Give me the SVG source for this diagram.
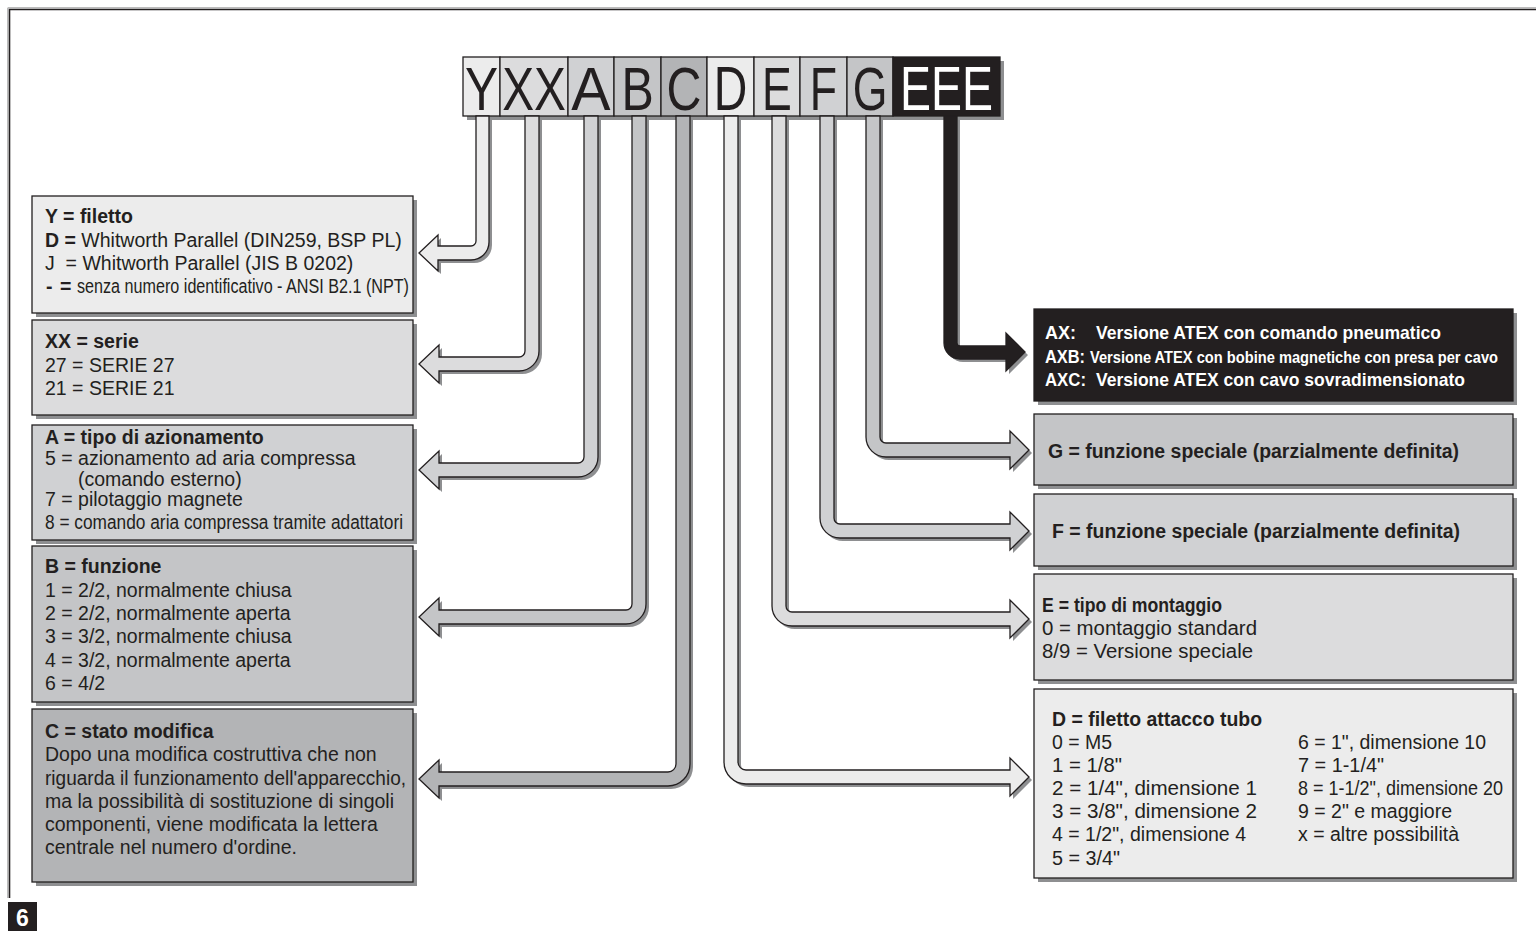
<svg xmlns="http://www.w3.org/2000/svg" xmlns:xlink="http://www.w3.org/1999/xlink" width="1536" height="931" viewBox="0 0 1536 931">
<style>
.sh{fill:#8e8f91}
.bx{stroke:#231f20;stroke-width:1.3}
.ar{stroke:#231f20;stroke-width:1.3;stroke-linejoin:miter}
.t{font-family:"Liberation Sans",Arial,sans-serif;font-size:19.5px;fill:#231f20}
.r{font-family:"Liberation Sans",Arial,sans-serif;font-size:20px;fill:#231f20}
.w{font-family:"Liberation Sans",Arial,sans-serif;font-size:19px;font-weight:bold;fill:#ffffff}
.b{font-weight:bold}
.hl{font-family:"Liberation Sans",Arial,sans-serif;font-size:62px;fill:#231f20;text-anchor:middle}
.c1{fill:#ececec}.c2{fill:#dcdcdd}.c3{fill:#d0d1d3}.c4{fill:#c4c5c7}.c5{fill:#b3b4b6}.c6{fill:#231f20}
</style>
<defs>
<path id="pY" d="M476 116 V241 A5 5 0 0 1 471 246 H438 V235 L419 253 L438 271 V260 H471 A18 18 0 0 0 489 242 V116 Z"/>
<path id="pXX" d="M525 116 V351 A6 6 0 0 1 519 357 H439 V345 L419 364 L439 383 V371 H519 A20 20 0 0 0 539 351 V116 Z"/>
<path id="pA" d="M584 116 V457 A6 6 0 0 1 578 463 H439 V451 L419 470 L439 489 V477 H578 A20 20 0 0 0 598 457 V116 Z"/>
<path id="pB" d="M632 116 V604 A6 6 0 0 1 626 610 H439 V598 L419 617 L439 636 V624 H626 A20 20 0 0 0 646 604 V116 Z"/>
<path id="pC" d="M676 116 V764 A8 8 0 0 1 668 772 H439 V760 L419 779 L439 798 V786 H668 A22 22 0 0 0 690 764 V116 Z"/>
<path id="pD" d="M724 116 V762 A22 22 0 0 0 746 784 H1010 V796 L1029 777 L1010 758 V770 H746 A8 8 0 0 1 738 762 V116 Z"/>
<path id="pE" d="M772 116 V606 A20 20 0 0 0 792 626 H1010 V638 L1029 619 L1010 600 V612 H792 A6 6 0 0 1 786 606 V116 Z"/>
<path id="pF" d="M820 116 V518 A20 20 0 0 0 840 538 H1010 V550 L1029 531 L1010 512 V524 H840 A6 6 0 0 1 834 518 V116 Z"/>
<path id="pG" d="M866 116 V437 A20 20 0 0 0 886 457 H1010 V469 L1029 450 L1010 431 V443 H886 A6 6 0 0 1 880 437 V116 Z"/>
<path id="pEEE" d="M944 116 V343 A16 16 0 0 0 960 359 H1006 V371 L1025 352 L1006 333 V346 H960 A3 3 0 0 1 957 343 V116 Z"/>
</defs>

<rect width="1536" height="931" fill="#ffffff"/>

<g id="frame">
<path d="M7.8 898 V7.8 H1536" fill="none" stroke="#a0a0a0" stroke-width="1"/>
<path d="M9.5 898 V9.5 H1536" fill="none" stroke="#231f20" stroke-width="1.6"/>
<rect x="8" y="902" width="29" height="29" fill="#231f20"/>
<text x="22.5" y="926" font-family="'Liberation Sans',Arial,sans-serif" font-size="23" font-weight="bold" fill="#ffffff" text-anchor="middle">6</text>
</g>

<g id="code-header">
<rect x="467" y="61" width="537" height="59" class="sh"/>
<rect x="463" y="57" width="37" height="59" class="bx c1"/>
<rect x="500" y="57" width="68" height="59" class="bx c2"/>
<rect x="568" y="57" width="46" height="59" class="bx c3"/>
<rect x="614" y="57" width="47" height="59" class="bx c4"/>
<rect x="661" y="57" width="46" height="59" class="bx c5"/>
<rect x="707" y="57" width="47" height="59" class="bx c1"/>
<rect x="754" y="57" width="46" height="59" class="bx c2"/>
<rect x="800" y="57" width="47" height="59" class="bx c3"/>
<rect x="847" y="57" width="46" height="59" class="bx c4"/>
<rect x="893" y="57" width="107" height="59" class="bx c6"/>
<text class="hl" transform="translate(481.5,110) scale(0.8,1)">Y</text>
<text class="hl" transform="translate(534,110) scale(0.77,1)">XX</text>
<text class="hl" transform="translate(591,110) scale(0.95,1)">A</text>
<text class="hl" transform="translate(637.5,110) scale(0.78,1)">B</text>
<text class="hl" transform="translate(684,110) scale(0.78,1)">C</text>
<text class="hl" transform="translate(730.5,110) scale(0.75,1)">D</text>
<text class="hl" transform="translate(777,110) scale(0.72,1)">E</text>
<text class="hl" transform="translate(823.5,110) scale(0.72,1)">F</text>
<text class="hl" transform="translate(870,110) scale(0.72,1)">G</text>
<text class="hl" transform="translate(946.5,110) scale(0.75,1)" style="fill:#ffffff">EEE</text>
</g>

<g id="connectors">
<use xlink:href="#pY" class="sh" transform="translate(3,3)"/>
<use xlink:href="#pXX" class="sh" transform="translate(3,3)"/>
<use xlink:href="#pA" class="sh" transform="translate(3,3)"/>
<use xlink:href="#pB" class="sh" transform="translate(3,3)"/>
<use xlink:href="#pC" class="sh" transform="translate(3,3)"/>
<use xlink:href="#pD" class="sh" transform="translate(3,3)"/>
<use xlink:href="#pE" class="sh" transform="translate(3,3)"/>
<use xlink:href="#pF" class="sh" transform="translate(3,3)"/>
<use xlink:href="#pG" class="sh" transform="translate(3,3)"/>
<use xlink:href="#pEEE" class="sh" transform="translate(3,3)"/>
<use xlink:href="#pY" class="ar c1"/>
<use xlink:href="#pXX" class="ar c2"/>
<use xlink:href="#pA" class="ar c3"/>
<use xlink:href="#pB" class="ar c4"/>
<use xlink:href="#pC" class="ar c5"/>
<use xlink:href="#pD" class="ar c1"/>
<use xlink:href="#pE" class="ar c2"/>
<use xlink:href="#pF" class="ar c3"/>
<use xlink:href="#pG" class="ar c4"/>
<use xlink:href="#pEEE" class="ar c6"/>
</g>

<g id="box-Y">
<rect x="36" y="200" width="381" height="117" class="sh"/>
<rect x="32" y="196" width="381" height="117" class="bx c1"/>
<text class="t b" x="45" y="223">Y = filetto</text>
<text class="t" x="45" y="247"><tspan class="b">D =</tspan> Whitworth Parallel (DIN259, BSP PL)</text>
<text class="t" x="45" y="270" xml:space="preserve">J  = Whitworth Parallel (JIS B 0202)</text>
<text class="t b" x="46" y="293">-</text>
<text class="t b" x="60" y="293">=</text>
<text class="t" x="77" y="293" textLength="332" lengthAdjust="spacingAndGlyphs">senza numero identificativo - ANSI B2.1 (NPT)</text>
</g>

<g id="box-XX">
<rect x="36" y="324" width="381" height="95" class="sh"/>
<rect x="32" y="320" width="381" height="95" class="bx c2"/>
<text class="t b" x="45" y="348">XX = serie</text>
<text class="t" x="45" y="372">27 = SERIE 27</text>
<text class="t" x="45" y="395">21 = SERIE 21</text>
</g>

<g id="box-A">
<rect x="36" y="429" width="381" height="115" class="sh"/>
<rect x="32" y="425" width="381" height="115" class="bx c3"/>
<text class="t b" x="45" y="444">A = tipo di azionamento</text>
<text class="t" x="45" y="465">5 = azionamento ad aria compressa</text>
<text class="t" x="78" y="486">(comando esterno)</text>
<text class="t" x="45" y="506">7 = pilotaggio magnete</text>
<text class="t" x="45" y="529" textLength="358" lengthAdjust="spacingAndGlyphs">8 = comando aria compressa tramite adattatori</text>
</g>

<g id="box-B">
<rect x="36" y="550" width="381" height="156" class="sh"/>
<rect x="32" y="546" width="381" height="156" class="bx c4"/>
<text class="t b" x="45" y="573">B = funzione</text>
<text class="t" x="45" y="597">1 = 2/2, normalmente chiusa</text>
<text class="t" x="45" y="620">2 = 2/2, normalmente aperta</text>
<text class="t" x="45" y="643">3 = 3/2, normalmente chiusa</text>
<text class="t" x="45" y="667">4 = 3/2, normalmente aperta</text>
<text class="t" x="45" y="690">6 = 4/2</text>
</g>

<g id="box-C">
<rect x="36" y="713" width="381" height="173" class="sh"/>
<rect x="32" y="709" width="381" height="173" class="bx c5"/>
<text class="t b" x="45" y="738">C = stato modifica</text>
<text class="t" x="45" y="761">Dopo una modifica costruttiva che non</text>
<text class="t" x="45" y="785" textLength="361" lengthAdjust="spacingAndGlyphs">riguarda il funzionamento dell'apparecchio,</text>
<text class="t" x="45" y="808">ma la possibilità di sostituzione di singoli</text>
<text class="t" x="45" y="831">componenti, viene modificata la lettera</text>
<text class="t" x="45" y="854">centrale nel numero d'ordine.</text>
</g>

<g id="box-AX">
<rect x="1038" y="313" width="479" height="92" class="sh"/>
<rect x="1034" y="309" width="479" height="92" class="bx c6"/>
<text class="w" x="1045" y="339" textLength="31" lengthAdjust="spacingAndGlyphs">AX:</text>
<text class="w" x="1096" y="339" textLength="345" lengthAdjust="spacingAndGlyphs">Versione ATEX con comando pneumatico</text>
<text class="w" x="1045" y="363" textLength="40" lengthAdjust="spacingAndGlyphs">AXB:</text>
<text class="w" x="1090" y="363" style="font-size:16px" textLength="408" lengthAdjust="spacingAndGlyphs">Versione ATEX con bobine magnetiche con presa per cavo</text>
<text class="w" x="1045" y="386" textLength="41" lengthAdjust="spacingAndGlyphs">AXC:</text>
<text class="w" x="1096" y="386" textLength="369" lengthAdjust="spacingAndGlyphs">Versione ATEX con cavo sovradimensionato</text>
</g>

<g id="box-G">
<rect x="1038" y="418" width="479" height="71" class="sh"/>
<rect x="1034" y="414" width="479" height="71" class="bx c4"/>
<text class="r b" x="1048" y="458" textLength="411" lengthAdjust="spacingAndGlyphs">G = funzione speciale (parzialmente definita)</text>
</g>

<g id="box-F">
<rect x="1038" y="498" width="479" height="72" class="sh"/>
<rect x="1034" y="494" width="479" height="72" class="bx c3"/>
<text class="r b" x="1052" y="538" textLength="408" lengthAdjust="spacingAndGlyphs">F = funzione speciale (parzialmente definita)</text>
</g>

<g id="box-E">
<rect x="1038" y="578" width="479" height="106" class="sh"/>
<rect x="1034" y="574" width="479" height="106" class="bx c2"/>
<text class="r b" x="1042" y="612" textLength="180" lengthAdjust="spacingAndGlyphs">E = tipo di montaggio</text>
<text class="r" x="1042" y="635" textLength="215" lengthAdjust="spacingAndGlyphs">0 = montaggio standard</text>
<text class="r" x="1042" y="658" textLength="211" lengthAdjust="spacingAndGlyphs">8/9 = Versione speciale</text>
</g>

<g id="box-D">
<rect x="1038" y="693" width="479" height="189" class="sh"/>
<rect x="1034" y="689" width="479" height="189" class="bx c1"/>
<text class="r b" x="1052" y="726" textLength="210" lengthAdjust="spacingAndGlyphs">D = filetto attacco tubo</text>
<text class="r" x="1052" y="749" textLength="60" lengthAdjust="spacingAndGlyphs">0 = M5</text>
<text class="r" x="1052" y="772" textLength="70" lengthAdjust="spacingAndGlyphs">1 = 1/8"</text>
<text class="r" x="1052" y="795" textLength="205" lengthAdjust="spacingAndGlyphs">2 = 1/4", dimensione 1</text>
<text class="r" x="1052" y="818" textLength="205" lengthAdjust="spacingAndGlyphs">3 = 3/8", dimensione 2</text>
<text class="r" x="1052" y="841" textLength="194" lengthAdjust="spacingAndGlyphs">4 = 1/2", dimensione 4</text>
<text class="r" x="1052" y="865" textLength="68" lengthAdjust="spacingAndGlyphs">5 = 3/4"</text>
<text class="r" x="1298" y="749" textLength="188" lengthAdjust="spacingAndGlyphs">6 = 1", dimensione 10</text>
<text class="r" x="1298" y="772" textLength="86" lengthAdjust="spacingAndGlyphs">7 = 1-1/4"</text>
<text class="r" x="1298" y="795" textLength="205" lengthAdjust="spacingAndGlyphs">8 = 1-1/2", dimensione 20</text>
<text class="r" x="1298" y="818" textLength="154" lengthAdjust="spacingAndGlyphs">9 = 2" e maggiore</text>
<text class="r" x="1298" y="841" textLength="161" lengthAdjust="spacingAndGlyphs">x = altre possibilità</text>
</g>
</svg>
